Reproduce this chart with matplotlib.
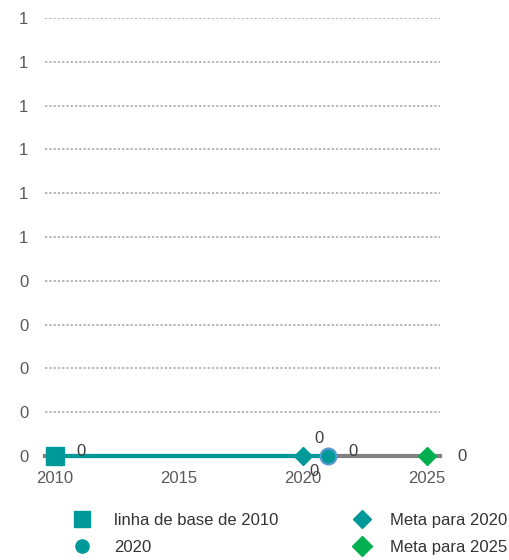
import matplotlib
matplotlib.use("Agg")
import matplotlib.pyplot as plt
from matplotlib.lines import Line2D

plt.rcParams['font.family'] = ['Liberation Sans', 'DejaVu Sans']

# ---- data ----
baseline_year = [2010]
baseline_value = [0]
actual_year = [2021]
actual_value = [0]
target2020_year = [2020]
target2020_value = [0]
target2025_year = [2025]
target2025_value = [0]
y_ticks = [0.0, 0.1, 0.2, 0.3, 0.4, 0.5, 0.6, 0.7, 0.8, 0.9, 1.0]
y_tick_labels = ['0', '0', '0', '0', '0', '1', '1', '1', '1', '1', '1']
x_ticks = [2010, 2015, 2020, 2025]
legend_labels = ['linha de base de 2010', '2020', 'Meta para 2020', 'Meta para 2025']

TEAL = '#00999a'
GREEN = '#00b050'
GRAY_LINE = '#808080'
GRID = '#b8b8b8'
TICK = '#595959'
LABEL = '#404040'

fig = plt.figure(figsize=(5.09, 5.60), dpi=100)
ax = fig.add_axes([45/509, (560-456)/560, (440-45)/509, (456-18)/560])

ax.set_xlim(2009.6, 2025.53)
ax.set_ylim(0, 1)

for s in ['top', 'right', 'left']:
    ax.spines[s].set_visible(False)
ax.spines['bottom'].set_color(GRAY_LINE)
ax.spines['bottom'].set_linewidth(3)
ax.spines['bottom'].set_zorder(1)

ax.set_yticks(y_ticks)
ax.set_yticklabels(y_tick_labels)
ax.set_xticks(x_ticks)
ax.tick_params(axis='both', length=0, labelsize=12, labelcolor=TICK)
ax.tick_params(axis='y', pad=12)
ax.tick_params(axis='x', pad=11)
ax.yaxis.grid(True, linestyle=(0, (1.2, 1.0)), linewidth=1.4, color=GRID)
ax.set_axisbelow(True)

# teal progress line from baseline to actual
ax.plot(baseline_year + actual_year, baseline_value + actual_value,
        color=TEAL, linewidth=3, zorder=2, clip_on=False, solid_capstyle='butt')

ax.plot(baseline_year, baseline_value, marker='s', markersize=12.5, color=TEAL,
        linestyle='none', zorder=4, clip_on=False)
ax.plot(target2020_year, target2020_value, marker='D', markersize=9.2, color=TEAL,
        linestyle='none', zorder=4, clip_on=False)
ax.plot(actual_year, actual_value, marker='o', markersize=11.5, markerfacecolor=TEAL,
        markeredgecolor='#5b9bd5', markeredgewidth=1.5, linestyle='none', zorder=5, clip_on=False)
ax.plot(target2025_year, target2025_value, marker='D', markersize=9.5, color=GREEN,
        linestyle='none', zorder=4, clip_on=False)

def lab(x, y, dx, dy):
    ax.annotate(f"{y:.0f}", xy=(x, y), xytext=(dx, dy), textcoords='offset points',
                ha='center', va='center', fontsize=12, color=LABEL, zorder=6,
                annotation_clip=False)

lab(baseline_year[0], baseline_value[0], 19, 3)
lab(target2020_year[0], target2020_value[0], 8, -11.5)
lab(actual_year[0], actual_value[0], -6, 12.5)
lab(actual_year[0], actual_value[0], 18, 3)
lab(target2025_year[0], target2025_value[0], 25, -0.5)

# legend (two columns)
h_base = Line2D([], [], marker='s', markersize=11, color=TEAL, linestyle='none')
h_act = Line2D([], [], marker='o', markersize=9.5, color=TEAL, linestyle='none')
h_t20 = Line2D([], [], marker='D', markersize=9.5, color=TEAL, linestyle='none')
h_t25 = Line2D([], [], marker='D', markersize=10.5, color=GREEN, linestyle='none')

common = dict(frameon=False, fontsize=12, loc='upper left', borderpad=0, borderaxespad=0,
              handlelength=1.0, labelspacing=0.7, labelcolor='#333333')
leg1 = fig.legend([h_base, h_act], legend_labels[:2], handletextpad=1.4,
                  bbox_to_anchor=(74/509, 1 - 513/560), **common)
leg2 = fig.legend([h_t20, h_t25], legend_labels[2:], handletextpad=1.15,
                  bbox_to_anchor=(354/509, 1 - 513/560), **common)

fig.savefig('out.png', dpi=100)
